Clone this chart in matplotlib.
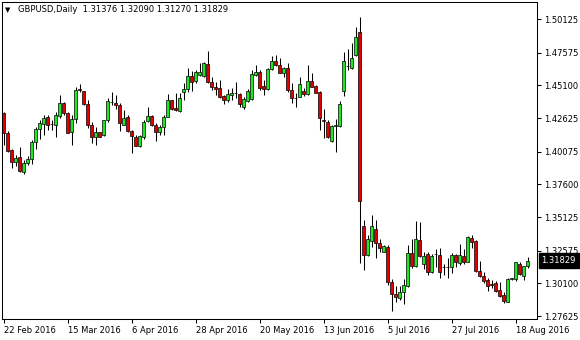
import matplotlib
matplotlib.use('Agg')
import matplotlib.pyplot as plt
import matplotlib.transforms as mtransforms
import numpy as np
import pandas as pd

# daily GBPUSD bars, 22 Feb 2016 .. 23 Aug 2016 (weekdays)
opens = [1.4298, 1.4151, 1.4020, 1.3932, 1.3964, 1.3855, 1.3919, 1.3949, 1.4078, 1.4176,
         1.4218, 1.4267, 1.4216, 1.4213, 1.4276, 1.4373, 1.4302, 1.4156, 1.4252, 1.4480,
         1.4465, 1.4366, 1.4213, 1.4115, 1.4154, 1.4133, 1.4246, 1.4386, 1.4376, 1.4361,
         1.4213, 1.4267, 1.4166, 1.4115, 1.4054, 1.4115, 1.4237, 1.4275, 1.4206, 1.4153,
         1.4196, 1.4272, 1.4396, 1.4338, 1.4318, 1.4457, 1.4480, 1.4581, 1.4543, 1.4590,
         1.4583, 1.4671, 1.4533, 1.4500, 1.4490, 1.4429, 1.4399, 1.4440, 1.4450, 1.4442,
         1.4348, 1.4389, 1.4404, 1.4590, 1.4608, 1.4505, 1.4480, 1.4631, 1.4697, 1.4667,
         1.4606, 1.4639, 1.4474, 1.4417, 1.4424, 1.4467, 1.4442, 1.4543, 1.4505, 1.4460,
         1.4245, 1.4229, 1.4090, 1.4202, 1.4202, 1.4470, 1.4660, 1.4639, 1.4740, 1.4916,
         1.3445, 1.3224, 1.3333, 1.3419, 1.3313, 1.3249, 1.3288, 1.3023, 1.2929, 1.2902,
         1.2941, 1.2990, 1.3241, 1.3140, 1.3338, 1.3155, 1.3236, 1.3097, 1.3234, 1.3221,
         1.3135, 1.3130, 1.3130, 1.3224, 1.3165, 1.3216, 1.3173, 1.3354, 1.3331, 1.3107,
         1.3065, 1.3039, 1.3003, 1.3016, 1.2957, 1.2919, 1.2871, 1.3046, 1.3044, 1.3160,
         1.3062, 1.31376]
highs = [1.4310, 1.4163, 1.4025, 1.3982, 1.4040, 1.3944, 1.3974, 1.4095, 1.4195, 1.4246,
         1.4285, 1.4285, 1.4246, 1.4310, 1.4436, 1.4385, 1.4310, 1.4285, 1.4500, 1.4520,
         1.4468, 1.4399, 1.4234, 1.4195, 1.4160, 1.4246, 1.4412, 1.4457, 1.4436, 1.4373,
         1.4323, 1.4285, 1.4171, 1.4133, 1.4133, 1.4246, 1.4348, 1.4285, 1.4221, 1.4208,
         1.4285, 1.4444, 1.4399, 1.4449, 1.4449, 1.4525, 1.4639, 1.4621, 1.4626, 1.4676,
         1.4689, 1.4772, 1.4576, 1.4538, 1.4550, 1.4437, 1.4482, 1.4492, 1.4538, 1.4449,
         1.4424, 1.4480, 1.4626, 1.4664, 1.4626, 1.4550, 1.4639, 1.4732, 1.4737, 1.4714,
         1.4651, 1.4676, 1.4525, 1.4449, 1.4576, 1.4487, 1.4664, 1.4601, 1.4513, 1.4470,
         1.4331, 1.4246, 1.4208, 1.4252, 1.4393, 1.4760, 1.4783, 1.4833, 1.4950, 1.5025,
         1.3489, 1.3376, 1.3528, 1.3492, 1.3349, 1.3300, 1.3300, 1.3046, 1.2989, 1.2989,
         1.3046, 1.3300, 1.3349, 1.3479, 1.3476, 1.3244, 1.3244, 1.3232, 1.3272, 1.3279,
         1.3158, 1.3201, 1.3241, 1.3236, 1.3307, 1.3272, 1.3370, 1.3376, 1.3336, 1.3176,
         1.3097, 1.3047, 1.3039, 1.3024, 1.3021, 1.2942, 1.3054, 1.3054, 1.3173, 1.3168,
         1.3145, 1.32090]
lows = [1.4058, 1.4007, 1.3880, 1.3898, 1.3855, 1.3835, 1.3907, 1.3913, 1.4031, 1.4105,
        1.4133, 1.4171, 1.4171, 1.4115, 1.4260, 1.4285, 1.4146, 1.4058, 1.4222, 1.4462,
        1.4360, 1.4183, 1.4075, 1.4058, 1.4115, 1.4123, 1.4234, 1.4361, 1.4328, 1.4166,
        1.4209, 1.4158, 1.3999, 1.4048, 1.4043, 1.4107, 1.4229, 1.4204, 1.4090, 1.4133,
        1.4133, 1.4267, 1.4323, 1.4318, 1.4310, 1.4399, 1.4462, 1.4470, 1.4525, 1.4580,
        1.4575, 1.4530, 1.4474, 1.4437, 1.4412, 1.4368, 1.4386, 1.4399, 1.4412, 1.4343,
        1.4331, 1.4381, 1.4399, 1.4583, 1.4474, 1.4437, 1.4474, 1.4626, 1.4656, 1.4601,
        1.4576, 1.4462, 1.4378, 1.4348, 1.4419, 1.4432, 1.4437, 1.4495, 1.4449, 1.4171,
        1.4108, 1.4108, 1.4082, 1.4007, 1.4196, 1.4432, 1.4626, 1.4634, 1.4734, 1.3163,
        1.3113, 1.3217, 1.3288, 1.3204, 1.3249, 1.3244, 1.2995, 1.2801, 1.2869, 1.2885,
        1.2850, 1.2979, 1.3127, 1.3132, 1.3211, 1.3120, 1.3072, 1.3087, 1.3132, 1.3052,
        1.3072, 1.3052, 1.3085, 1.3135, 1.3148, 1.3158, 1.3168, 1.3279, 1.3097, 1.3057,
        1.3011, 1.2950, 1.2977, 1.2942, 1.2907, 1.2861, 1.2866, 1.3034, 1.3024, 1.3072,
        1.3034, 1.31270]
closes = [1.4147, 1.4015, 1.3926, 1.3960, 1.3862, 1.3919, 1.3949, 1.4080, 1.4179, 1.4221,
          1.4259, 1.4213, 1.4219, 1.4282, 1.4373, 1.4297, 1.4151, 1.4252, 1.4474, 1.4478,
          1.4366, 1.4213, 1.4115, 1.4154, 1.4120, 1.4244, 1.4391, 1.4383, 1.4359, 1.4222,
          1.4259, 1.4161, 1.4126, 1.4054, 1.4126, 1.4234, 1.4275, 1.4208, 1.4156, 1.4196,
          1.4272, 1.4396, 1.4330, 1.4323, 1.4412, 1.4483, 1.4581, 1.4538, 1.4608, 1.4610,
          1.4676, 1.4533, 1.4495, 1.4485, 1.4424, 1.4399, 1.4442, 1.4455, 1.4452, 1.4368,
          1.4404, 1.4467, 1.4593, 1.4610, 1.4487, 1.4480, 1.4631, 1.4697, 1.4667, 1.4606,
          1.4639, 1.4474, 1.4412, 1.4415, 1.4520, 1.4442, 1.4543, 1.4500, 1.4455, 1.4260,
          1.4242, 1.4115, 1.4204, 1.4206, 1.4368, 1.4694, 1.4658, 1.4719, 1.4879, 1.3630,
          1.3224, 1.3343, 1.3447, 1.3313, 1.3275, 1.3293, 1.3023, 1.2926, 1.2907, 1.2944,
          1.2997, 1.3241, 1.3140, 1.3343, 1.3217, 1.3218, 1.3097, 1.3217, 1.3236, 1.3094,
          1.3130, 1.3135, 1.3224, 1.3168, 1.3224, 1.3173, 1.3362, 1.3324, 1.3105, 1.3062,
          1.3026, 1.2990, 1.3000, 1.2950, 1.2912, 1.2876, 1.3046, 1.3050, 1.3168, 1.3080,
          1.3138, 1.31829]

price_ticks = [1.50125, 1.47575, 1.45100, 1.42625, 1.40075,
               1.37600, 1.35125, 1.32575, 1.30100, 1.27625]
date_labels = ['22 Feb 2016', '15 Mar 2016', '6 Apr 2016', '28 Apr 2016', '20 May 2016',
               '13 Jun 2016', '5 Jul 2016', '27 Jul 2016', '18 Aug 2016']
title = 'GBPUSD,Daily  1.31376 1.32090 1.31270 1.31829'

plt.rcParams['font.family'] = ['DejaVu Sans']

o = np.array(opens)
h = np.array(highs)
l = np.array(lows)
c = np.array(closes)
x = np.arange(len(o))
dates = pd.bdate_range('2016-02-22', periods=len(o))
up = c >= o

fig = plt.figure(figsize=(5.8, 3.4), dpi=100)
ax = fig.add_axes([2 / 580, 21 / 340, 535 / 580, 317 / 340])

# wicks under the bodies
ax.vlines(x, l, h, color='black', linewidth=0.75, zorder=2)
body_low = np.minimum(o, c)
body_h = np.maximum(np.abs(c - o), 0.00004)
ax.bar(x, body_h, bottom=body_low, width=0.8,
       color=['#1ee81e' if u else '#e00000' for u in up],
       edgecolor='black', linewidth=0.5, zorder=3)

ax.set_xlim(-0.375, -0.375 + 535 / 4)
ax.set_ylim(1.27398, 1.51413)

# price scale on the right
ax.yaxis.tick_right()
ax.set_yticks(price_ticks)
ax.set_yticklabels(['%.5f' % p for p in price_ticks])
ax.tick_params(axis='y', length=3, width=0.75, labelsize=6, pad=2, colors='black')

# date scale, labels start at the tick
pos = [dates.get_loc(pd.Timestamp(d)) for d in date_labels]
ax.set_xticks(pos)
ax.set_xticklabels(date_labels, ha='left')
ax.tick_params(axis='x', length=3, width=0.75, labelsize=6, pad=2, colors='black')

for s in ax.spines.values():
    s.set_linewidth(0.75)
    s.set_color('black')
    s.set_zorder(5)

# current price tag
trans = mtransforms.blended_transform_factory(ax.transAxes, ax.transData)
ax.text(1 + 4.5 / 535, c[-1], '%.5f' % c[-1], transform=trans, color='white',
        fontsize=6, va='center', ha='left', clip_on=False,
        bbox=dict(boxstyle='square,pad=0.35', fc='black', ec='black'))

fig.text(5 / 580, 1 - 10 / 340, '\u25bc', fontsize=5, va='center', ha='left')
fig.text(18 / 580, 1 - 10 / 340, title, fontsize=6, va='center', ha='left')

fig.savefig('out.png', dpi=100, facecolor='white')
